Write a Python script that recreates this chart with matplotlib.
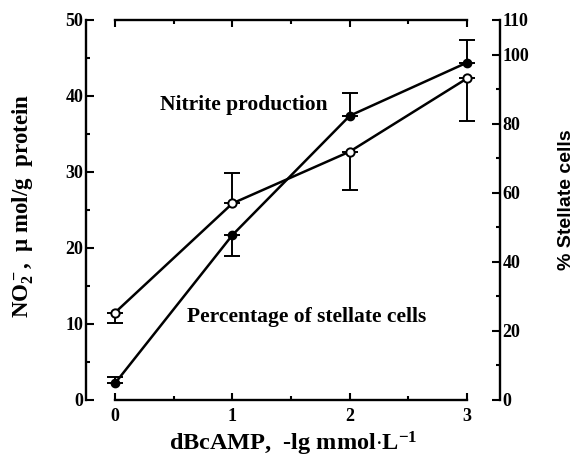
import numpy as np
import matplotlib
matplotlib.use('Agg')
import matplotlib.pyplot as plt
from matplotlib.ticker import MultipleLocator, FixedLocator

# data
doses = [0, 1, 2, 3]
dose_labels = ['0', '1', '2', '3']

nitrite = [2.2, 21.7, 37.4, 44.4]          # umol/g protein (left axis)
nitrite_err_up = [0.8, 0.0, 3.0, 3.0]
nitrite_err_down = [0.0, 2.8, 0.0, 0.0]

stellate = [25.3, 56.9, 71.9, 93.1]        # % stellate cells (right axis)
stellate_err_up = [0.0, 8.7, 0.0, 0.0]
stellate_err_down = [2.9, 0.0, 11.1, 12.3]

plt.rcParams['font.family'] = ['Liberation Serif', 'DejaVu Serif']
plt.rcParams['font.weight'] = 'bold'
plt.rcParams['mathtext.fontset'] = 'custom'
plt.rcParams['mathtext.rm'] = 'Liberation Serif:bold'
plt.rcParams['mathtext.bf'] = 'Liberation Serif:bold'
plt.rcParams['mathtext.it'] = 'Liberation Serif:bold'


def one_sided(ax, x, y, up, down, **kw):
    # draws only the non-zero half of each error bar
    for xi, yi, u, d in zip(x, y, up, down):
        if u > 0:
            ax.errorbar([xi], [yi], yerr=[[0], [u]], **kw)
        if d > 0:
            ax.errorbar([xi], [yi], yerr=[[d], [0]], **kw)


fig = plt.figure(figsize=(5.78, 4.65), dpi=100)
ax = fig.add_axes([0.149, 0.14, 0.716, 0.817])
ax2 = ax.twinx()

err_kw = dict(fmt='none', ecolor='black', elinewidth=1.4, capsize=5.5, capthick=1.4)
one_sided(ax, doses, nitrite, nitrite_err_up, nitrite_err_down, **err_kw)
one_sided(ax2, doses, stellate, stellate_err_up, stellate_err_down, **err_kw)

ax.plot(doses, nitrite, color='black', lw=1.8, marker='o', ms=6,
        mfc='black', mec='black', zorder=5)
ax2.plot(doses, stellate, color='black', lw=1.8, marker='o', ms=6,
         mfc='white', mec='black', mew=1.4, zorder=5)

ax.set_xlim(-0.247, 3.28)
ax.set_ylim(0, 50)
ax2.set_ylim(0, 110)

for s in ['left', 'right', 'top', 'bottom']:
    ax.spines[s].set_linewidth(1.7)
    ax2.spines[s].set_linewidth(1.7)
ax.spines['right'].set_visible(False)
ax.spines['bottom'].set_bounds(0, 3)
ax.spines['top'].set_bounds(0, 3)
ax2.spines['top'].set_visible(False)
ax2.spines['bottom'].set_visible(False)
ax2.spines['left'].set_visible(False)

ax.set_xticks(doses)
ax.set_xticklabels(dose_labels)
ax.xaxis.set_minor_locator(MultipleLocator(0.5))
ax.yaxis.set_major_locator(MultipleLocator(10))
ax.yaxis.set_minor_locator(MultipleLocator(5))
ax2.yaxis.set_major_locator(FixedLocator([0, 20, 40, 60, 80, 100, 110]))
ax2.yaxis.set_minor_locator(FixedLocator([10, 30, 50, 70, 90]))

ax.tick_params(axis='both', which='both', direction='in', width=1.5, labelsize=13)
ax.tick_params(axis='x', which='both', top=True)
ax.tick_params(axis='x', which='major', length=5, pad=6)
ax.tick_params(axis='x', which='minor', length=3)
ax.tick_params(axis='y', which='major', length=6, pad=2)
ax.tick_params(axis='y', which='minor', length=3)
ax2.tick_params(axis='y', which='both', direction='in', width=1.5, labelsize=13, pad=2)
ax2.tick_params(axis='y', which='major', length=6)
ax2.tick_params(axis='y', which='minor', length=3)

for lab in ax.get_xticklabels() + ax.get_yticklabels() + ax2.get_yticklabels():
    lab.set_fontweight('bold')

ax.set_ylabel(r'NO$_2^-$,  μ mol/g  protein', fontsize=16.5, fontweight='bold')
ax.yaxis.set_label_coords(-0.12, 0.51)
ax.set_xlabel(r'dBcAMP,  -lg mmol$\cdot$L$^{-1}$', fontsize=17.5, fontweight='bold', labelpad=3)
ax2.set_ylabel('% Stellate cells', fontsize=14, fontweight='bold', family='Liberation Sans')
ax2.yaxis.set_label_coords(1.14, 0.526)

ax.text(0.38, 38.8, 'Nitrite production', fontsize=15.5, fontweight='bold', va='center')
ax.text(0.61, 10.9, 'Percentage of stellate cells', fontsize=15.5, fontweight='bold', va='center')

fig.savefig('out.png', dpi=100)
